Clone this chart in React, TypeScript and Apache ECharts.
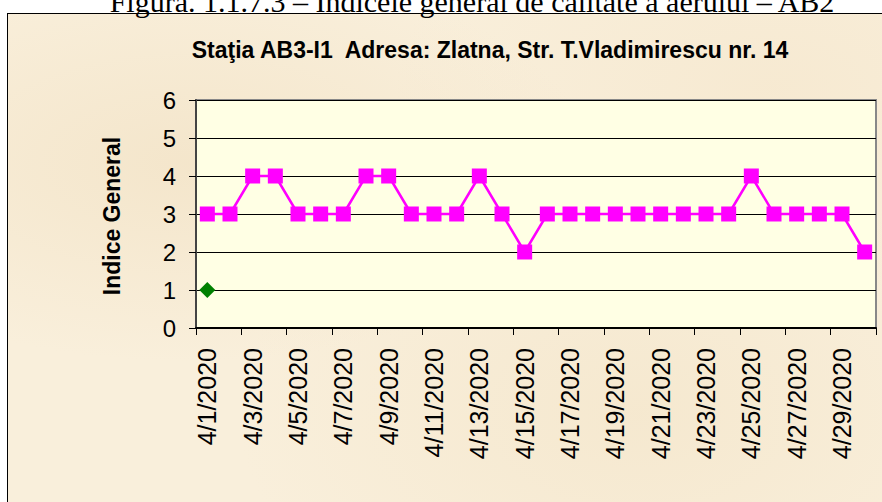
import React, { useEffect, useRef } from "react";
import * as echarts from "echarts";

const categories: string[] = [
  "4/1/2020", "4/2/2020", "4/3/2020", "4/4/2020", "4/5/2020", "4/6/2020",
  "4/7/2020", "4/8/2020", "4/9/2020", "4/10/2020", "4/11/2020", "4/12/2020",
  "4/13/2020", "4/14/2020", "4/15/2020", "4/16/2020", "4/17/2020", "4/18/2020",
  "4/19/2020", "4/20/2020", "4/21/2020", "4/22/2020", "4/23/2020", "4/24/2020",
  "4/25/2020", "4/26/2020", "4/27/2020", "4/28/2020", "4/29/2020", "4/30/2020",
];

const indiceGeneral: number[] = [
  3, 3, 4, 4, 3, 3, 3, 4, 4, 3, 3, 3, 4, 3, 2,
  3, 3, 3, 3, 3, 3, 3, 3, 3, 4, 3, 3, 3, 3, 2,
];

const secondSeries: (number | null)[] = [
  1, null, null, null, null, null, null, null, null, null, null, null, null, null, null,
  null, null, null, null, null, null, null, null, null, null, null, null, null, null, null,
];

const chartTitle = "Staţia AB3-I1  Adresa: Zlatna, Str. T.Vladimirescu nr. 14";
const yAxisTitle = "Indice General";
const caption = "Figura. 1.1.7.3 – Indicele general de calitate a aerului – AB2";

const FONT = 'Arial, "Liberation Sans", Helvetica, sans-serif';

export default function App() {
  const ref = useRef<HTMLDivElement>(null);

  useEffect(() => {
    if (!ref.current) return;
    const chart = echarts.init(ref.current, null, { renderer: "svg" });
    chart.setOption({
      animation: false,
      backgroundColor: "transparent",
      grid: {
        left: 196,
        top: 100,
        right: 6,
        bottom: 174,
        show: true,
        backgroundColor: "#ffffe4",
        borderColor: "#888888",
        borderWidth: 2,
      },
      xAxis: {
        type: "category",
        data: categories,
        boundaryGap: true,
        axisLine: { show: true, lineStyle: { color: "#000", width: 2 } },
        axisTick: { show: true, interval: 1, length: 7, lineStyle: { color: "#000", width: 1 } },
        axisLabel: {
          interval: 1,
          rotate: 90,
          margin: 20,
          fontSize: 25,
          color: "#000",
          fontFamily: FONT,
        },
        splitLine: { show: false },
      },
      yAxis: {
        type: "value",
        min: 0,
        max: 6,
        interval: 1,
        axisLine: { show: true, lineStyle: { color: "#444", width: 2 } },
        axisTick: { show: true, length: 7, lineStyle: { color: "#000", width: 1 } },
        axisLabel: {
          margin: 20,
          fontSize: 24,
          color: "#000",
          fontFamily: FONT,
        },
        splitLine: { show: true, lineStyle: { color: "#000", width: 1 } },
      },
      series: [
        {
          type: "line",
          data: indiceGeneral,
          symbol: "rect",
          symbolSize: 15,
          lineStyle: { color: "#ff00ff", width: 2.5 },
          itemStyle: { color: "#ff00ff" },
          z: 3,
        },
        {
          type: "line",
          data: secondSeries,
          symbol: "diamond",
          symbolSize: 16,
          showSymbol: true,
          lineStyle: { color: "#008000", width: 2 },
          itemStyle: { color: "#008000" },
          z: 4,
        },
      ],
      graphic: [
        {
          type: "text",
          x: 490,
          y: 50,
          style: {
            text: chartTitle,
            font: `bold 23px ${FONT}`,
            fill: "#000",
            align: "center",
            verticalAlign: "middle",
          },
        },
        {
          type: "text",
          x: 112,
          y: 216,
          rotation: Math.PI / 2,
          style: {
            text: yAxisTitle,
            font: `bold 23px ${FONT}`,
            fill: "#000",
            align: "center",
            verticalAlign: "middle",
          },
        },
        {
          type: "text",
          x: 472,
          y: 16,
          style: {
            text: caption,
            font: `30px "Liberation Serif", "Times New Roman", serif`,
            fill: "#000",
            align: "center",
            verticalAlign: "bottom",
          },
        },
      ],
    });
    return () => chart.dispose();
  }, []);

  return (
    <div
      style={{
        position: "absolute",
        left: 0,
        top: 0,
        width: 882,
        height: 502,
        overflow: "hidden",
        background: "#ffffff",
      }}
    >
      <div
        style={{
          position: "absolute",
          left: 7,
          top: 13,
          width: 900,
          height: 500,
          border: "1px solid #000",
          background:
            "radial-gradient(ellipse at 20% 30%, rgba(240,222,190,0.55), rgba(0,0,0,0) 40%)," +
            "radial-gradient(ellipse at 70% 80%, rgba(242,226,196,0.5), rgba(0,0,0,0) 45%)," +
            "radial-gradient(ellipse at 85% 15%, rgba(244,228,200,0.5), rgba(0,0,0,0) 35%)," +
            "#f9efdb",
        }}
      />
      <div
        ref={ref}
        style={{ position: "absolute", left: 0, top: 0, width: 882, height: 502 }}
      />
    </div>
  );
}
